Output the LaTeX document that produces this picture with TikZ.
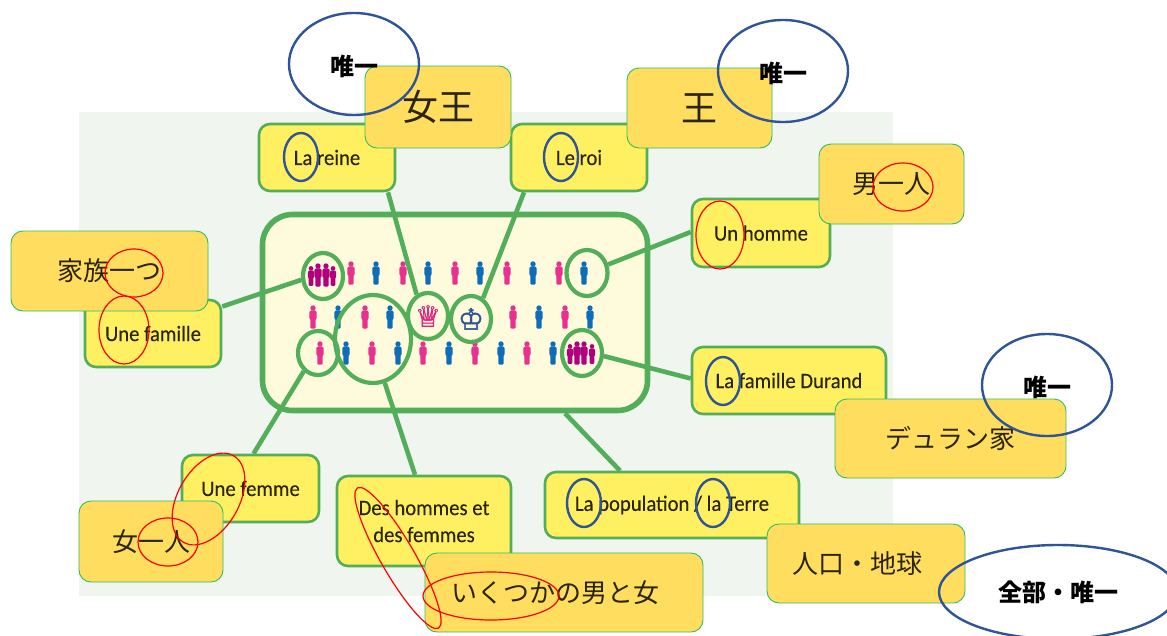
\documentclass[tikz,border=0pt]{standalone}
\usepackage{xcolor}
\usepackage{fontspec}
\usepackage{tikz}
\usetikzlibrary{shapes.geometric}
\setmainfont[FakeStretch=0.94,FakeBold=0.25]{Carlito}
\newfontfamily\jpfont{Noto Sans CJK JP}
\newfontfamily\chessfont[FakeBold=1.6]{DejaVu Sans}
\definecolor{panelbg}{HTML}{F0F5F0}
\definecolor{panelgreen}{HTML}{52AE58}
\definecolor{panelfill}{HTML}{FDFBDC}
\definecolor{labelfill}{HTML}{FFF061}
\definecolor{labeltext}{HTML}{2A2408}
\definecolor{notefill}{HTML}{FFDD5E}
\definecolor{noteedge}{HTML}{2FBF60}
\definecolor{notetext}{HTML}{2B2410}
\definecolor{ovalblue}{HTML}{2F5597}
\definecolor{personpink}{HTML}{E8308F}
\definecolor{personblue}{HTML}{0F6DB8}
\definecolor{personplum}{HTML}{B0007E}
\tikzset{
  labelbox/.style={rectangle, rounded corners=11pt, draw=panelgreen, line width=2.6pt, fill=labelfill,
    text=labeltext, font=\fontsize{22}{27}\selectfont, align=center, inner sep=0pt},
  notebox/.style={rectangle, rounded corners=12pt, draw=noteedge, line width=0.9pt, fill=notefill,
    text=notetext, font=\jpfont\fontsize{26}{30}\selectfont, inner sep=0pt},
  ring/.style={ellipse, draw=panelgreen, line width=4.2pt, inner sep=0pt},
  link/.style={draw=panelgreen, line width=4.6pt},
  blueoval/.style={ellipse, draw=ovalblue, line width=2.4pt, inner sep=0pt},
  redoval/.style={ellipse, draw=red, line width=1.2pt, inner sep=0pt},
  onlyword/.style={font=\jpfont\bfseries\fontsize{24}{28}\selectfont, inner sep=0pt},
  person/.pic={
    \fill (0,9) circle (2.7);
    \fill [rounded corners=2pt] (-3.6,6.6) rectangle (3.6,-3);
    \fill [rounded corners=1pt] (-2.7,0) rectangle (2.7,-11.5);
  }
}
\begin{document}
\begin{tikzpicture}[x=1pt,y=1pt]
        \useasboundingbox (0,0) rectangle (1167,-635);
        \clip (0,0) rectangle (1167,-635);
        \fill [panelbg] (79,-112) rectangle (893,-596);
        \node (panel) [rectangle, rounded corners=30pt, draw=panelgreen, line width=5.6pt, fill=panelfill,
          minimum width=385pt, minimum height=196pt] at (455,-312.5) {};
        % people
        \pic [color=personpink] at (351,-273) {person};
        \pic [color=personblue] at (376,-273) {person};
        \pic [color=personpink] at (403,-273) {person};
        \pic [color=personblue] at (428,-273) {person};
        \pic [color=personpink] at (455,-273) {person};
        \pic [color=personblue] at (480,-273) {person};
        \pic [color=personpink] at (507,-273) {person};
        \pic [color=personblue] at (533,-273) {person};
        \pic [color=personpink] at (559,-273) {person};
        \pic [color=personblue] at (584,-273) {person};
        \pic [color=personpink] at (313,-317) {person};
        \pic [color=personblue] at (338,-317) {person};
        \pic [color=personpink] at (365,-317) {person};
        \pic [color=personblue] at (390,-317) {person};
        \pic [color=personpink] at (513,-317) {person};
        \pic [color=personblue] at (539,-317) {person};
        \pic [color=personpink] at (565,-317) {person};
        \pic [color=personblue] at (590,-317) {person};
        \pic [color=personpink] at (320,-353) {person};
        \pic [color=personblue] at (346,-353) {person};
        \pic [color=personpink] at (372,-353) {person};
        \pic [color=personblue] at (398,-353) {person};
        \pic [color=personpink] at (423,-353) {person};
        \pic [color=personblue] at (449,-353) {person};
        \pic [color=personpink] at (475,-353) {person};
        \pic [color=personblue] at (501,-353) {person};
        \pic [color=personpink] at (527,-353) {person};
        \pic [color=personblue] at (553,-353) {person};
        % the two families
        \pic [color=personplum, scale=0.85] at (311,-276) {person};
        \pic [color=personplum] at (318,-275) {person};
        \pic [color=personplum] at (326,-275) {person};
        \pic [color=personplum, scale=0.85] at (333,-276) {person};
        \pic [color=personplum, scale=0.85] at (570,-354) {person};
        \pic [color=personplum] at (577,-353) {person};
        \pic [color=personplum] at (584,-353) {person};
        \pic [color=personplum, scale=0.85] at (592,-354) {person};
        % rings
        \node (ringFamily) [ring, minimum width=40pt, minimum height=46pt] at (323,-276) {};
        \node (ringMan) [ring, minimum width=41pt, minimum height=46pt] at (587,-273) {};
        \node (ringWoman) [ring, minimum width=40pt, minimum height=44pt] at (318,-353) {};
        \node (ringGroup) [ring, minimum width=76pt, minimum height=88pt] at (373,-339) {};
        \node (ringQueen) [ring, minimum width=40pt, minimum height=46pt, text=personpink!80!purple,
          font=\chessfont\fontsize{29}{29}\selectfont] at (428,-316) {♕};
        \node (ringKing) [ring, minimum width=40pt, minimum height=46pt, text=ovalblue,
          font=\chessfont\fontsize{29}{29}\selectfont] at (471,-319) {♔};
        \node (ringDurand) [ring, minimum width=40pt, minimum height=46pt] at (582,-353) {};
        % labels
        \node (reine) [labelbox, minimum width=136pt, minimum height=67pt] at (327,-157.5) {La reine};
        \node (roi) [labelbox, minimum width=136pt, minimum height=67pt] at (579,-157.5) {Le roi};
        \node (homme) [labelbox, minimum width=138pt, minimum height=68pt] at (761,-233) {Un homme};
        \node (famille) [labelbox, minimum width=136pt, minimum height=67pt] at (153,-333.5) {Une famille};
        \node (durand) [labelbox, minimum width=194pt, minimum height=67pt] at (789,-380.5) {La famille Durand};
        \node (femme) [labelbox, minimum width=137pt, minimum height=67pt] at (250.5,-488.5) {Une femme};
        \node (groupe) [labelbox, minimum width=174pt, minimum height=90pt] at (424,-521) {Des hommes et\\des femmes};
        \node (population) [labelbox, minimum width=254pt, minimum height=66pt] at (672,-505) {La population / la Terre};
        % connectors
        \draw [link] ([xshift=61pt]reine.south) -- (ringQueen.118);
        \draw [link] ([xshift=-55pt]roi.south) -- (ringKing.60);
        \draw [link] ([yshift=1pt]homme.west) -- (ringMan.22);
        \draw [link] ([yshift=27pt]famille.east) -- (ringFamily.190);
        \draw [link] ([yshift=2pt]durand.west) -- (ringDurand.-8);
        \draw [link] ([xshift=3pt]femme.north) -- (ringWoman.232);
        \draw [link] ([xshift=-9pt]groupe.north) -- (ringGroup.-75);
        \draw [link] ([xshift=-52pt]population.north) -- ([xshift=110pt]panel.south);
        % translations
        \node (noteQueen) [notebox, minimum width=146pt, minimum height=82pt, font=\jpfont\fontsize{36}{40}\selectfont] at (438,-107) {女王};
        \node (noteKing) [notebox, minimum width=145pt, minimum height=80pt, font=\jpfont\fontsize{36}{40}\selectfont] at (699.5,-108) {王};
        \node (noteMan) [notebox, minimum width=145pt, minimum height=80pt] at (891.5,-184) {男一人};
        \node (noteFamily) [notebox, minimum width=197pt, minimum height=80pt] at (109.5,-271) {家族一つ};
        \node (noteDurand) [notebox, minimum width=231pt, minimum height=79pt] at (950.5,-438.5) {デュラン家};
        \node (noteWoman) [notebox, minimum width=144pt, minimum height=81pt] at (151,-541.5) {女一人};
        \node (noteGroup) [notebox, minimum width=278pt, minimum height=79pt] at (564,-592.5) {\kern-18pt いくつかの男と女};
        \node (noteEarth) [notebox, minimum width=198pt, minimum height=79pt] at (866,-563.5) {\kern-18pt 人口・地球};
        % ovals
        \node (ovalQueen) [blueoval, minimum width=130pt, minimum height=102pt] at (354,-64) {};
        \node (ovalKing) [blueoval, minimum width=130pt, minimum height=102pt] at (783,-71) {};
        \node (ovalDurand) [blueoval, minimum width=130pt, minimum height=102pt] at (1047,-385) {};
        \node (ovalEarth) [blueoval, minimum width=238pt, minimum height=94pt] at (1058,-592) {};
        \node (wordQueen) [onlyword] at (354,-66) {唯一};
        \node (wordKing) [onlyword] at (783,-73) {唯一};
        \node (wordDurand) [onlyword] at (1047,-387) {唯一};
        \node (wordEarth) [onlyword] at (1058,-592) {全部・唯一};
        \node (ovalLa) [blueoval, minimum width=34pt, minimum height=48pt] at (301,-157) {};
        \node (ovalLe) [blueoval, minimum width=34pt, minimum height=48pt] at (561,-157) {};
        \node (ovalDu) [blueoval, minimum width=34pt, minimum height=48pt] at (723,-381) {};
        \node (ovalPop) [blueoval, minimum width=34pt, minimum height=48pt] at (584,-503) {};
        \node (ovalTerre) [blueoval, minimum width=34pt, minimum height=48pt] at (713,-503) {};
        \node (redMan) [redoval, minimum width=60pt, minimum height=48pt] at (903,-187) {};
        \node (redUn) [redoval, minimum width=48pt, minimum height=68pt] at (720,-235) {};
        \node (redFamily) [redoval, minimum width=58pt, minimum height=48pt] at (134,-273) {};
        \node (redUne) [redoval, minimum width=50pt, minimum height=68pt] at (124,-330) {};
        \node (redWoman) [redoval, minimum width=60pt, minimum height=48pt] at (168,-542) {};
        \node (redFemme) [redoval, minimum width=61pt, minimum height=100pt, rotate=-30] at (208.5,-499) {};
        \node (redDes) [redoval, minimum width=34pt, minimum height=162pt, rotate=30] at (398,-558) {};
        \node (redSome) [redoval, minimum width=136pt, minimum height=48pt] at (491,-596) {};
    \end{tikzpicture}
\end{document}
